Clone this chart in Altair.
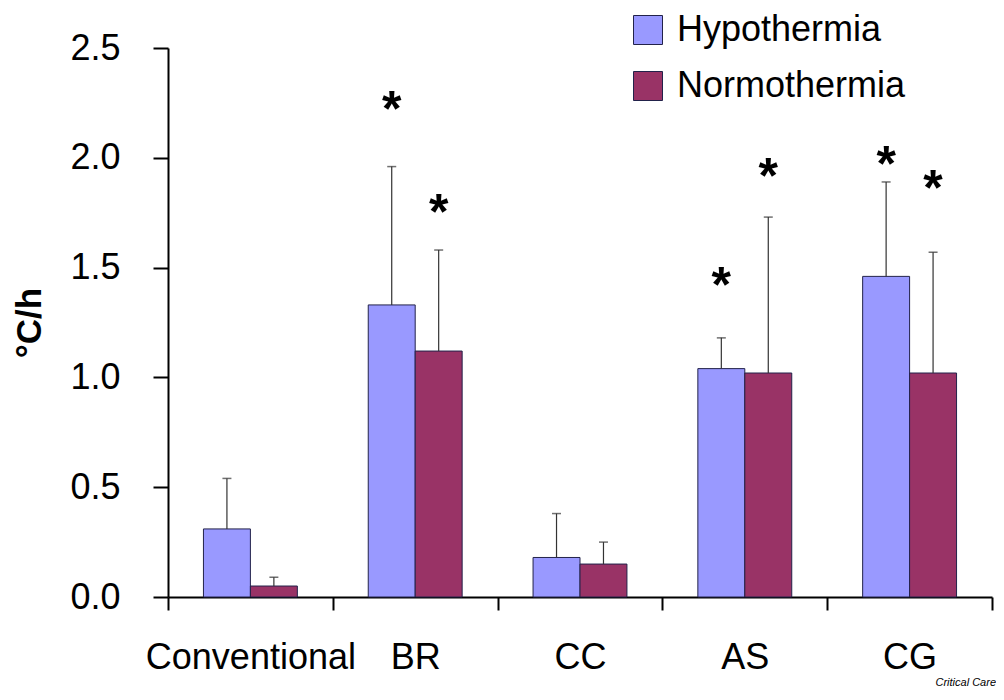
import altair as alt
import pandas as pd

categories = ["Conventional", "BR", "CC", "AS", "CG"]
groups = ["Hypothermia", "Normothermia"]
hypo_mean = [0.31, 1.33, 0.18, 1.04, 1.46]
hypo_err_top = [0.54, 1.96, 0.38, 1.18, 1.89]
normo_mean = [0.05, 1.12, 0.15, 1.02, 1.02]
normo_err_top = [0.09, 1.58, 0.25, 1.73, 1.57]

star_cat = ["BR", "BR", "AS", "AS", "CG", "CG"]
star_group = ["Hypothermia", "Normothermia", "Hypothermia", "Normothermia", "Hypothermia", "Normothermia"]
star_y = [2.25, 1.78, 1.45, 1.945, 2.0, 1.89]

colors = ["#9999FF", "#993366"]
FONT = "Liberation Sans"

rows = []
for i, c in enumerate(categories):
    rows.append({"cat": c, "group": groups[0], "mean": hypo_mean[i], "top": hypo_err_top[i]})
    rows.append({"cat": c, "group": groups[1], "mean": normo_mean[i], "top": normo_err_top[i]})
df = pd.DataFrame(rows)
stars = pd.DataFrame({"cat": star_cat, "group": star_group, "y": star_y, "t": ["*"] * len(star_y)})

xscale = alt.Scale(domain=categories, paddingInner=0, paddingOuter=0)
offscale = alt.Scale(domain=groups, paddingInner=0, paddingOuter=0.755)
yscale = alt.Scale(domain=[0, 2.5], nice=False, zero=True)

x_enc = alt.X("cat:N", scale=xscale, sort=categories,
              axis=alt.Axis(title=None, labelAngle=0, tickBand="extent", tickSize=13,
                            tickWidth=2, tickColor="black", domainColor="black", domainWidth=2,
                            labelFont=FONT, labelFontSize=36, labelColor="black",
                            labelPadding=30, labelBaseline="top", labelLimit=0))
off_enc = alt.XOffset("group:N", scale=offscale, sort=groups)

bars = alt.Chart(df).mark_bar(stroke="#22224a", strokeWidth=1).encode(
    x=x_enc,
    xOffset=off_enc,
    y=alt.Y("mean:Q", scale=yscale,
            axis=alt.Axis(title="°C/h", values=[0, 0.5, 1.0, 1.5, 2.0, 2.5], format=".1f",
                          grid=False, tickSize=15, tickWidth=2, tickColor="black",
                          domainColor="black", domainWidth=2,
                          labelFont=FONT, labelFontSize=36, labelColor="black", labelPadding=33,
                          titleFont=FONT, titleFontSize=35, titleFontWeight="bold",
                          titleColor="black", titlePadding=22)),
    color=alt.Color("group:N", sort=groups, scale=alt.Scale(domain=groups, range=colors),
                    legend=alt.Legend(title=None, orient="none", legendX=462, legendY=-36,
                                      symbolType="square", symbolSize=841,
                                      symbolStrokeColor="#22224a", symbolStrokeWidth=1,
                                      labelFont=FONT, labelFontSize=36, labelColor="black",
                                      labelOffset=11, rowPadding=20, padding=0, labelLimit=0)),
)

stems = alt.Chart(df).mark_rule(color="#333333", strokeWidth=1.2).encode(
    x=alt.X("cat:N", scale=xscale, sort=categories),
    xOffset=off_enc,
    y=alt.Y("mean:Q", scale=yscale),
    y2="top:Q",
)

caps = alt.Chart(df).mark_tick(color="#333333", thickness=1.5, size=9).encode(
    x=alt.X("cat:N", scale=xscale, sort=categories),
    xOffset=off_enc,
    y=alt.Y("top:Q", scale=yscale),
)

star_marks = alt.Chart(stars).mark_text(font=FONT, fontSize=50, fontWeight="bold",
                                        color="black", baseline="middle", dy=8).encode(
    x=alt.X("cat:N", scale=xscale, sort=categories),
    xOffset=alt.XOffset("group:N", scale=offscale, sort=groups),
    y=alt.Y("y:Q", scale=yscale),
    text="t:N",
)

chart = alt.layer(bars, stems, caps, star_marks).properties(
    width=824, height=549,
    autosize=alt.AutoSizeParams(type="none"),
    padding={"left": 160, "top": 40, "right": 4, "bottom": 95},
    title=alt.TitleParams("Critical Care", orient="bottom", anchor="end", font=FONT,
                          fontSize=11, fontStyle="italic", fontWeight="normal",
                          color="black", offset=2, dx=3, limit=0),
).configure_view(stroke=None)

chart.save("out.html", embed_options={"renderer": "svg", "actions": False})
